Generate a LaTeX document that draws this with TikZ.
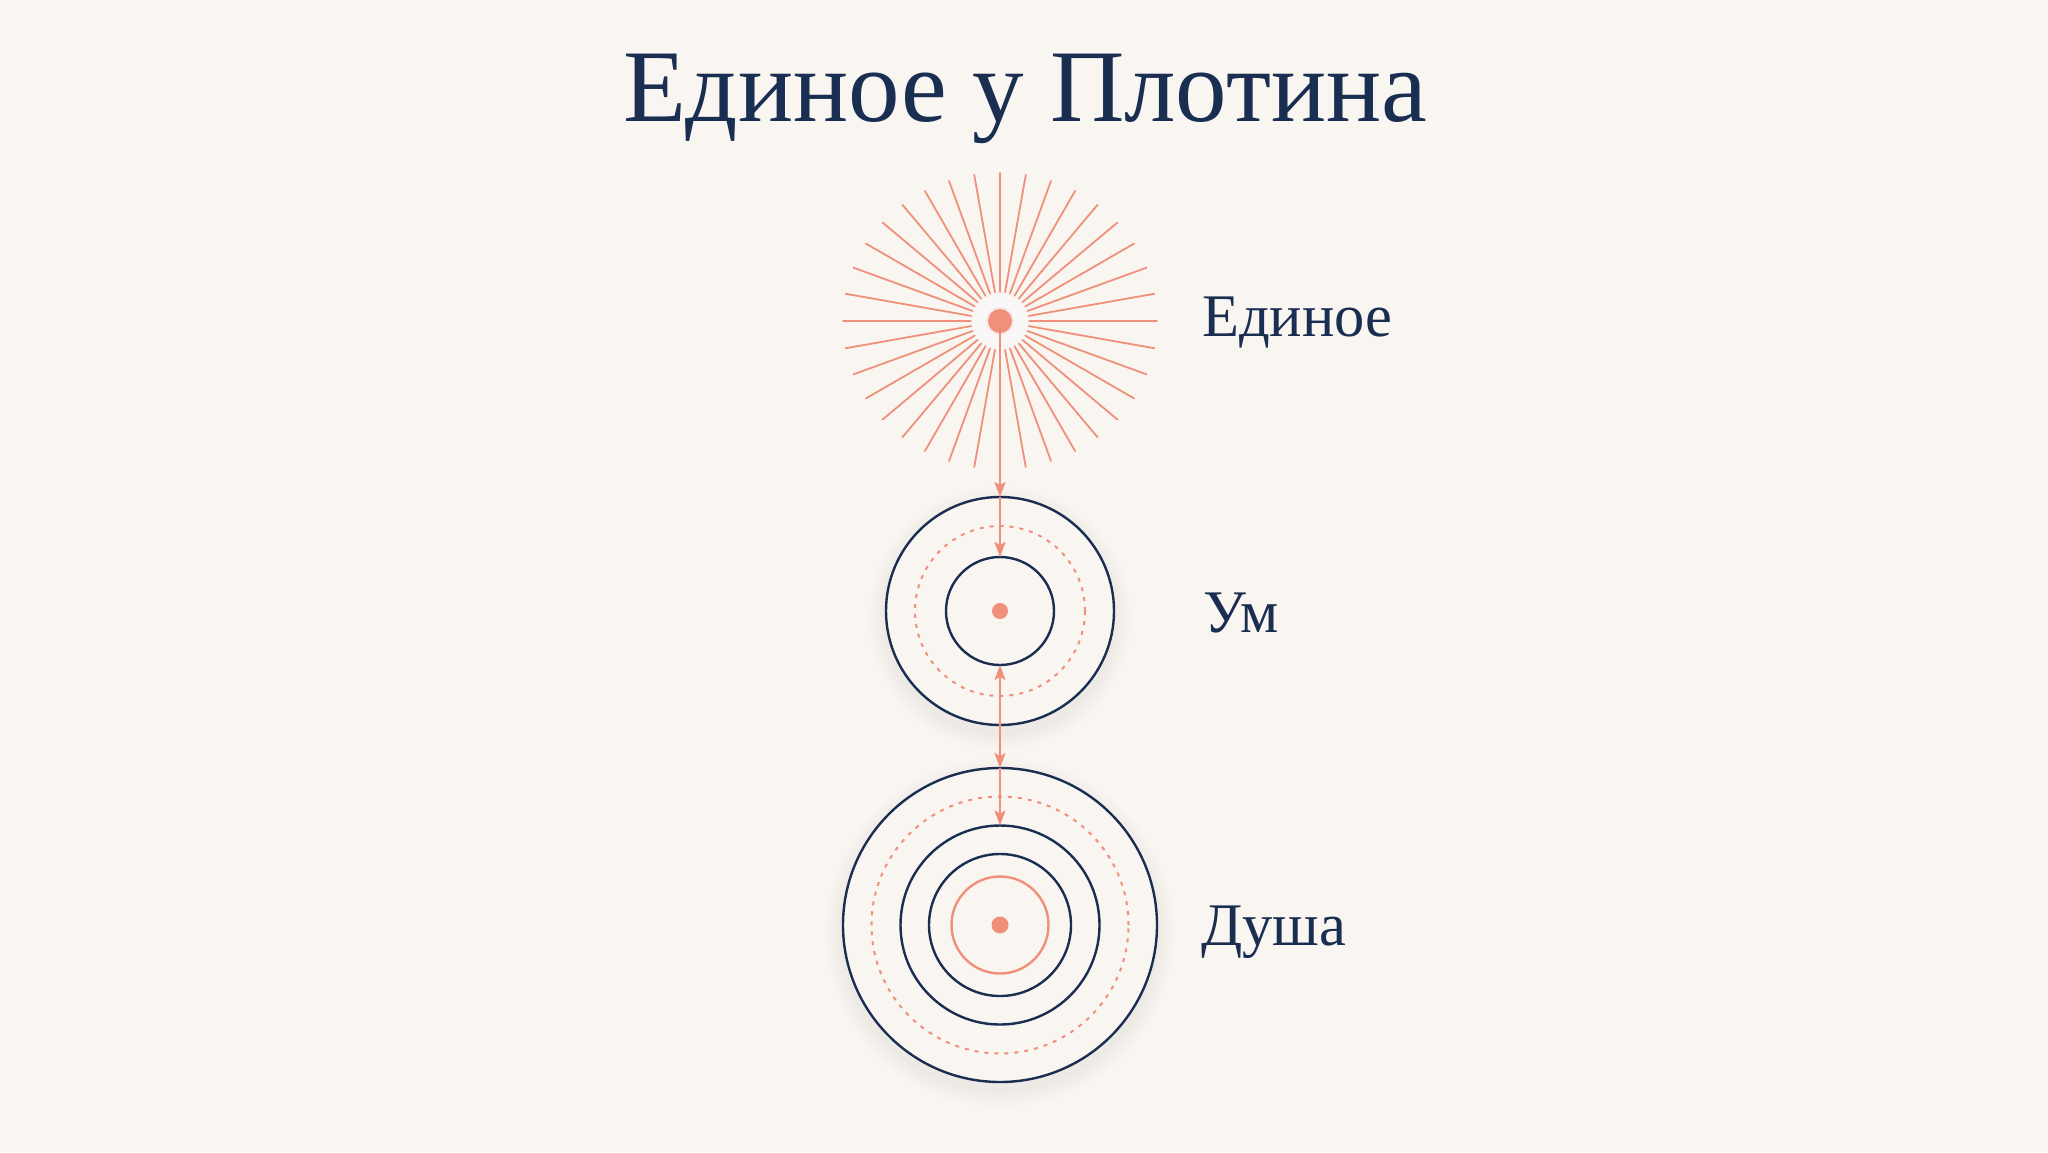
\documentclass[tikz,border=0pt]{standalone}
\usepackage{fontspec}
\setmainfont{Liberation Serif}
\usetikzlibrary{arrows.meta}
\definecolor{bgc}{HTML}{F9F6F2}
\definecolor{navy}{HTML}{1A2E52}
\definecolor{coral}{HTML}{F0907A}
\tikzset{
  ray/.style={draw=coral, line width=1.8pt, line cap=round},
  ringdark/.style={circle, draw=navy, line width=2.4pt, inner sep=0pt, outer sep=0pt},
  ringcoral/.style={circle, draw=coral, line width=2.4pt, inner sep=0pt, outer sep=0pt},
  ringdash/.style={circle, draw=coral, line width=2pt, dash pattern=on 4pt off 6pt, inner sep=0pt, outer sep=0pt},
  cdot/.style={circle, fill=coral, inner sep=0pt, outer sep=0pt},
  arr/.style={draw=coral, line width=2.4pt, -{Stealth[length=15pt,width=11pt,inset=3pt]}},
  darr/.style={draw=coral, line width=2.4pt, {Stealth[length=15pt,width=11pt,inset=3pt]}-{Stealth[length=15pt,width=11pt,inset=3pt]}},
  lbl/.style={text=navy, anchor=base west, inner sep=0pt, font=\fontsize{60.5pt}{72pt}\selectfont},
  ttl/.style={text=navy, anchor=base, inner sep=0pt, font=\fontsize{103pt}{124pt}\selectfont}
}
\begin{document}
\begin{tikzpicture}[x=1pt,y=-1pt]
\fill[bgc] (0,0) rectangle (2048,1152);
\useasboundingbox (0,0) rectangle (2048,1152);

% title
\node[ttl] (title) at (1025,121) {Единое у Плотина};

% ---- Единое (star) ----
\coordinate (sc) at (1000,321);
\foreach \a in {0,10,...,350}{
  \pgfmathsetmacro\rr{152.5+4.5*cos(2*\a)}
  \draw[ray] ([shift={(\a:29pt)}]sc) -- ([shift={(\a:\rr pt)}]sc);
}
\foreach \k in {1,...,8}{
  \fill[white, opacity=0.12] (sc) circle[radius={14pt+2pt*\k}];
}
\fill[coral, opacity=0.12] (sc) circle[radius=14pt];
\node[cdot, minimum size=24pt] (one) at (sc) {};
\node[lbl] (lone) at (1202,336) {Единое};

% ---- Ум ----
\foreach \k in {1,...,12}{
  \fill[black, opacity=0.0055] (1000,618) circle[radius={114pt+1.5pt*\k}];
}
\fill[bgc] (1000,611) circle[radius=114pt];
\node[ringdark, minimum size=228pt] (umOuter) at (1000,611) {};
\node[ringdash, minimum size=170pt] (umDash) at (1000,611) {};
\node[ringdark, minimum size=108pt] (umInner) at (1000,611) {};
\node[cdot, minimum size=16pt] (umDot) at (1000,611) {};
\node[lbl] (lum) at (1203,632) {Ум};

% ---- Душа ----
\foreach \k in {1,...,12}{
  \fill[black, opacity=0.0055] (1000,933) circle[radius={157pt+1.5pt*\k}];
}
\fill[bgc] (1000,925) circle[radius=157pt];
\node[ringdark, minimum size=314pt] (dOuter) at (1000,925) {};
\node[ringdash, minimum size=257pt] (dDash) at (1000,925) {};
\node[ringdark, minimum size=199pt] (dRing2) at (1000,925) {};
\node[ringdark, minimum size=142pt] (dRing3) at (1000,925) {};
\node[ringcoral, minimum size=97pt] (dRing4) at (1000,925) {};
\node[cdot, minimum size=17pt] (dDot) at (1000,925) {};
\node[lbl] (ld) at (1201,945) {Душа};

% ---- connectors ----
\draw[arr] (one.south) -- (umOuter.north);
\draw[arr] (umOuter.north) -- (umInner.north);
\draw[darr] (umInner.south) -- (dOuter.north);
\draw[arr] (dOuter.north) -- (dRing2.north);
\end{tikzpicture}
\end{document}
